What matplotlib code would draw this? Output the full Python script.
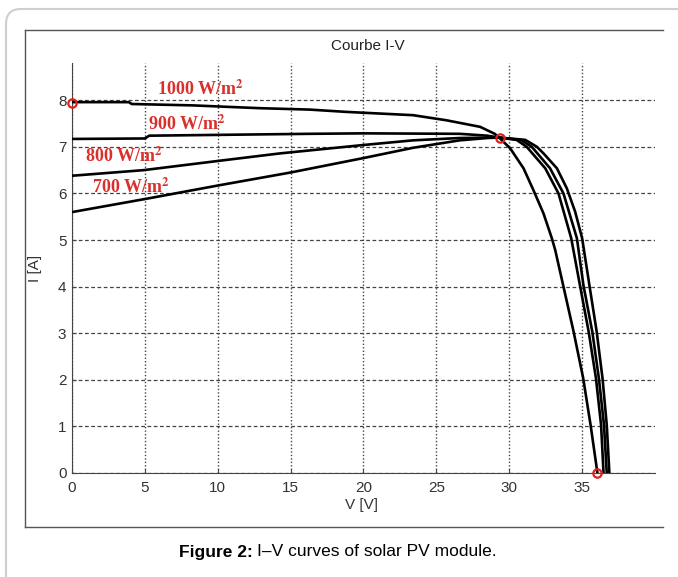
import matplotlib.pyplot as plt
from matplotlib.patches import FancyBboxPatch
from matplotlib.lines import Line2D

# I-V curves (V in volts, I in amperes)
v_1000 = [0, 3.9, 4.1, 8.3, 12.9, 16.3, 18.85, 23.4, 25.7, 28.0, 29.0, 29.3,
          30.06, 30.98, 31.66, 32.35, 32.92, 33.15, 33.72, 34.41, 35.07, 35.58, 36.05]
i_1000 = [7.96, 7.96, 7.92, 7.89, 7.83, 7.80, 7.75, 7.68, 7.57, 7.43, 7.28, 7.2,
          6.97, 6.54, 6.07, 5.57, 5.04, 4.79, 4.0, 3.04, 2.04, 1.03, 0]

v_900 = [0, 5.0, 5.3, 16.3, 20.0, 26.6, 28.5, 29.3, 30.5, 31.2, 32.47, 33.38,
         34.25, 34.85, 35.45, 35.95, 36.3, 36.47]
i_900 = [7.17, 7.18, 7.24, 7.28, 7.29, 7.28, 7.24, 7.2, 7.15, 7.0, 6.54, 6.0,
         5.04, 4.03, 3.03, 2.03, 1.03, 0]

v_800 = [0, 4.9, 10.6, 14.28, 20.0, 23.4, 26.6, 29.3, 30.8, 31.55, 32.8, 33.72,
         34.64, 35.09, 35.7, 36.15, 36.5, 36.69]
i_800 = [6.38, 6.5, 6.72, 6.86, 7.04, 7.14, 7.19, 7.2, 7.15, 7.0, 6.54, 6.0,
         5.04, 4.03, 3.03, 2.03, 1.03, 0]

v_700 = [0, 5, 10, 15, 20, 23.4, 26.6, 28.5, 29.3, 31.1, 31.9, 32.35, 33.27, 33.95,
         34.52, 35.0, 35.5, 36.0, 36.4, 36.69, 36.87]
i_700 = [5.6, 5.88, 6.17, 6.45, 6.76, 6.98, 7.14, 7.19, 7.2, 7.15, 7.0, 6.86, 6.54, 6.11,
         5.61, 5.04, 4.03, 3.03, 2.03, 1.03, 0]

# red circle markers (Isc, MPP, Voc)
mark_v = [0, 29.35, 36.05]
mark_i = [7.95, 7.2, 0]

labels = ['1000 W/m$^{\\mathbf{2}}$', '900 W/m$^{\\mathbf{2}}$',
          '800 W/m$^{\\mathbf{2}}$', '700 W/m$^{\\mathbf{2}}$']
label_v = [5.83, 5.22, 0.89, 1.37]
label_i = [8.11, 7.36, 6.68, 6.01]

plt.rcParams['font.family'] = 'Liberation Sans'
plt.rcParams['mathtext.fontset'] = 'stix'

fig = plt.figure(figsize=(6.78, 5.77), dpi=100)

# outer rounded frame + inner figure box
frame = FancyBboxPatch((0.06, -0.5), 7.0, 6.18, boxstyle='round,pad=0,rounding_size=0.15',
                       transform=fig.dpi_scale_trans, fc='none', ec='#cfcfcf', lw=1.5)
fig.patches.append(frame)
x0, x1 = 25 / 678, 663 / 678
y0, y1 = 1 - 527 / 577, 1 - 30 / 577
for xs, ys in [([x0, x1], [y1, y1]), ([x0, x0], [y0, y1]), ([x0, x1], [y0, y0])]:
    fig.add_artist(Line2D(xs, ys, transform=fig.transFigure, color='#555555', lw=1))

ax = fig.add_axes([72 / 678, 104 / 577, 583 / 678, 410 / 577])
ax.patch.set_alpha(0)
for v, i in [(v_1000, i_1000), (v_900, i_900), (v_800, i_800), (v_700, i_700)]:
    ax.plot(v, i, color='black', lw=1.9, zorder=3, solid_joinstyle='round')
ax.plot(mark_v, mark_i, 'o', ms=6, mfc='none', mec='#e02020', mew=1.6, clip_on=False, zorder=4)

for txt, tv, ti in zip(labels, label_v, label_i):
    ax.text(tv, ti, txt, color='#d9302c', fontsize=13, fontweight='bold',
            family='Liberation Serif', ha='left', va='baseline', zorder=5)

ax.set_xlim(0, 40)
ax.set_ylim(0, 8.8)
ax.set_xticks(range(0, 40, 5))
ax.set_yticks(range(0, 9))
ax.spines['top'].set_visible(False)
ax.spines['right'].set_visible(False)
for s in ['left', 'bottom']:
    ax.spines[s].set_color('#444444')
ax.tick_params(direction='in', length=3, labelsize=11, labelcolor='#333333', color='#444444')
ax.tick_params(axis='x', pad=6)
ax.tick_params(axis='y', pad=4)
ax.yaxis.grid(True, color='#444444', linestyle=(0, (3, 2)), lw=0.9)
ax.xaxis.grid(True, color='#444444', linestyle=(0, (1, 1.5)), lw=1.0)

ax.set_xlabel('V [V]', fontsize=11, color='#333333')
ax.xaxis.set_label_coords(0.497, -0.061)
ax.set_ylabel('I [A]', fontsize=11, color='#333333')
ax.yaxis.set_label_coords(-0.052, 0.5)
fig.text(368 / 678, 1 - 46 / 577, 'Courbe I-V', ha='center', va='center', fontsize=11, color='#222222')

# caption
fig.text(253 / 678, 1 - 552 / 577, 'Figure 2:', ha='right', va='center', fontsize=12.5, fontweight='bold')
fig.text(257 / 678, 1 - 552 / 577, 'I\u2013V curves of solar PV module.', ha='left', va='center', fontsize=12.5)

fig.savefig('out.png', dpi=100)
